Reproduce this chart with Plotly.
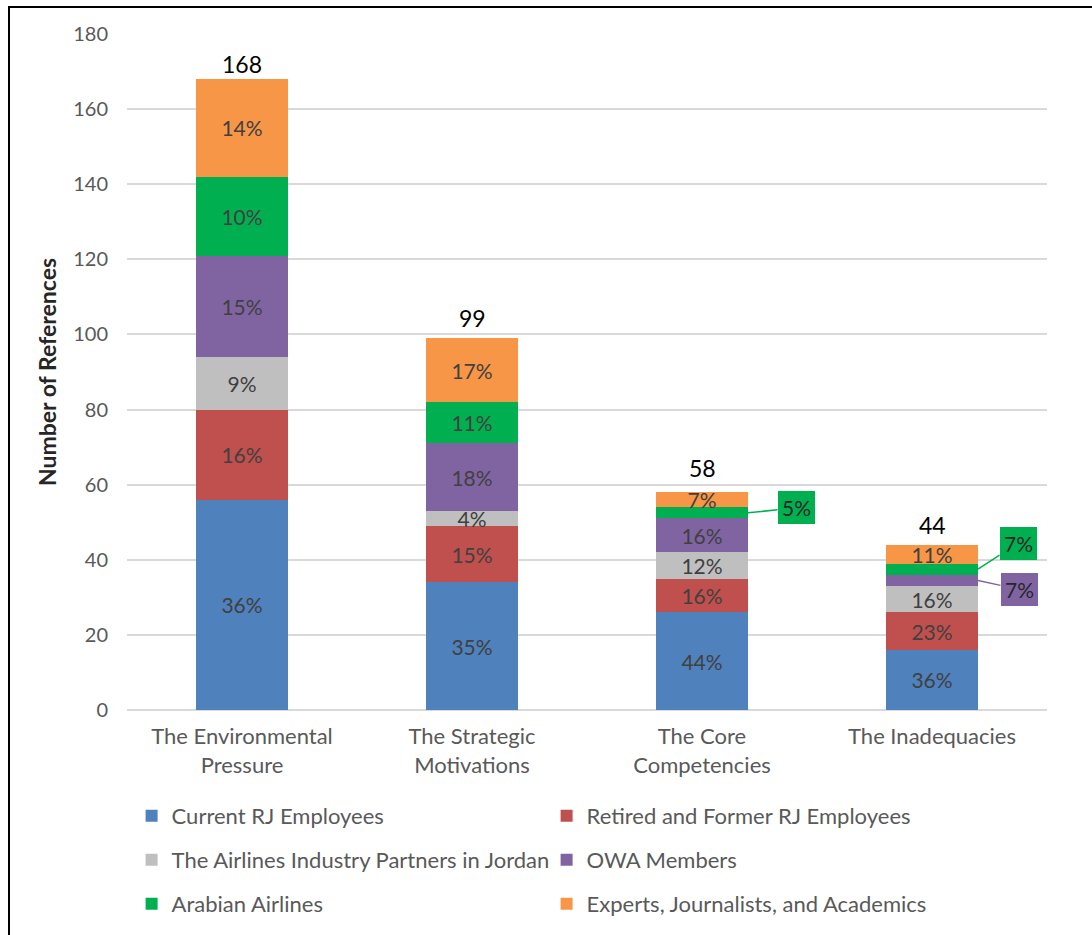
import plotly.graph_objects as go

# Themes on the x axis
categories = ["The Environmental<br>Pressure", "The Strategic<br>Motivations",
              "The Core<br>Competencies", "The Inadequacies"]

# Stakeholder groups (stack order, bottom to top)
groups = ["Current RJ Employees", "Retired and Former RJ Employees",
          "The Airlines Industry Partners in Jordan", "OWA Members",
          "Arabian Airlines", "Experts, Journalists, and Academics"]
colors = ["#4F81BD", "#C0504D", "#BFBFBF", "#8064A2", "#00B050", "#F79646"]

# Number of references per group and theme
current_rj = [56, 34, 26, 16]
retired_rj = [24, 15, 9, 10]
industry_partners = [14, 4, 7, 7]
owa_members = [27, 18, 9, 3]
arabian_airlines = [21, 11, 3, 3]
experts = [26, 17, 4, 5]
counts = [current_rj, retired_rj, industry_partners, owa_members, arabian_airlines, experts]

# Share labels per group and theme
pct_current = ["36%", "35%", "44%", "36%"]
pct_retired = ["16%", "15%", "16%", "23%"]
pct_partners = ["9%", "4%", "12%", "16%"]
pct_owa = ["15%", "18%", "16%", "7%"]
pct_arabian = ["10%", "11%", "5%", "7%"]
pct_experts = ["14%", "17%", "7%", "11%"]
pcts = [pct_current, pct_retired, pct_partners, pct_owa, pct_arabian, pct_experts]

# Labels drawn as callouts beside the bar instead of inside it
callout = {(4, 2), (4, 3), (3, 3)}

totals = [sum(c[i] for c in counts) for i in range(len(categories))]
total_lift = [0, 5, 9, 5]  # extra px above each stack for its total label

FONT = "Lato, 'Open Sans', sans-serif"
fig = go.Figure()

for g, (name, col, vals, labels) in enumerate(zip(groups, colors, counts, pcts)):
    inside = ["" if (g, i) in callout else t for i, t in enumerate(labels)]
    legend_id = ["legend", "legend2", "legend3"][g // 2]
    fig.add_trace(go.Bar(
        name=name, x=categories, y=vals, marker=dict(color=col, line=dict(width=0)),
        text=inside, textposition="inside", insidetextanchor="middle",
        textangle=0, constraintext="none",
        insidetextfont=dict(size=21, color="#404040", family=FONT),
        legend=legend_id, hoverinfo="skip",
    ))

# Totals above each stack
for i, t in enumerate(totals):
    fig.add_annotation(x=i, y=t, text=str(t), showarrow=False, yanchor="bottom",
                       yshift=-1 + total_lift[i],
                       font=dict(size=23, color="#000000", family=FONT))

# Callout boxes for thin segments
for (g, i), (ax, ay) in {(4, 2): (48, -5), (4, 3): (40, -26), (3, 3): (41, 9)}.items():
    base = sum(counts[k][i] for k in range(g))
    mid = base + counts[g][i] / 2
    fig.add_annotation(
        x=i + 0.2, y=mid, text=pcts[g][i], showarrow=True, arrowhead=0,
        arrowwidth=1.5, arrowcolor=colors[g], ax=ax, ay=ay,
        bgcolor=colors[g], borderpad=4, borderwidth=0,
        font=dict(size=21, color="#262626", family=FONT),
    )

# Outer frame
fig.add_shape(type="rect", xref="paper", yref="paper",
              x0=(9 - 127) / 920, x1=(1100 - 127) / 920,
              y0=(710 - 945) / 676, y1=(710 - 7) / 676,
              line=dict(color="#000000", width=2), fillcolor="rgba(0,0,0,0)", layer="above")

legend_common = dict(orientation="h", xanchor="left", yanchor="middle",
                     entrywidth=370, entrywidthmode="pixels",
                     font=dict(size=22, color="#595959", family=FONT),
                     bgcolor="rgba(0,0,0,0)", traceorder="normal", itemwidth=30)

fig.update_layout(
    width=1092, height=935,
    margin=dict(l=127, r=45, t=34, b=225, autoexpand=False),
    paper_bgcolor="white", plot_bgcolor="white",
    barmode="stack", bargap=0.6,
    font=dict(family=FONT, color="#595959"),
    uniformtext=dict(minsize=21, mode="show"),
    xaxis=dict(tickfont=dict(size=22, color="#595959", family=FONT), automargin=False,
               showgrid=False, showline=False, ticks="", ticklabelstandoff=11),
    yaxis=dict(range=[0, 180], dtick=20, tickfont=dict(size=20, color="#595959", family=FONT),
               gridcolor="#D9D9D9", gridwidth=1.5, zeroline=True, zerolinecolor="#D9D9D9",
               zerolinewidth=1.5, showline=False, ticks="", ticklabelstandoff=18, automargin=False,
               title=dict(text="<b>Number of References</b>", standoff=10,
                          font=dict(size=23, color="#262626", family=FONT))),
    legend=dict(legend_common, x=0.005, y=(710 - 816) / 676),
    legend2=dict(legend_common, x=0.005, y=(710 - 860) / 676),
    legend3=dict(legend_common, x=0.005, y=(710 - 904) / 676),
)

fig.write_html("out.html")
